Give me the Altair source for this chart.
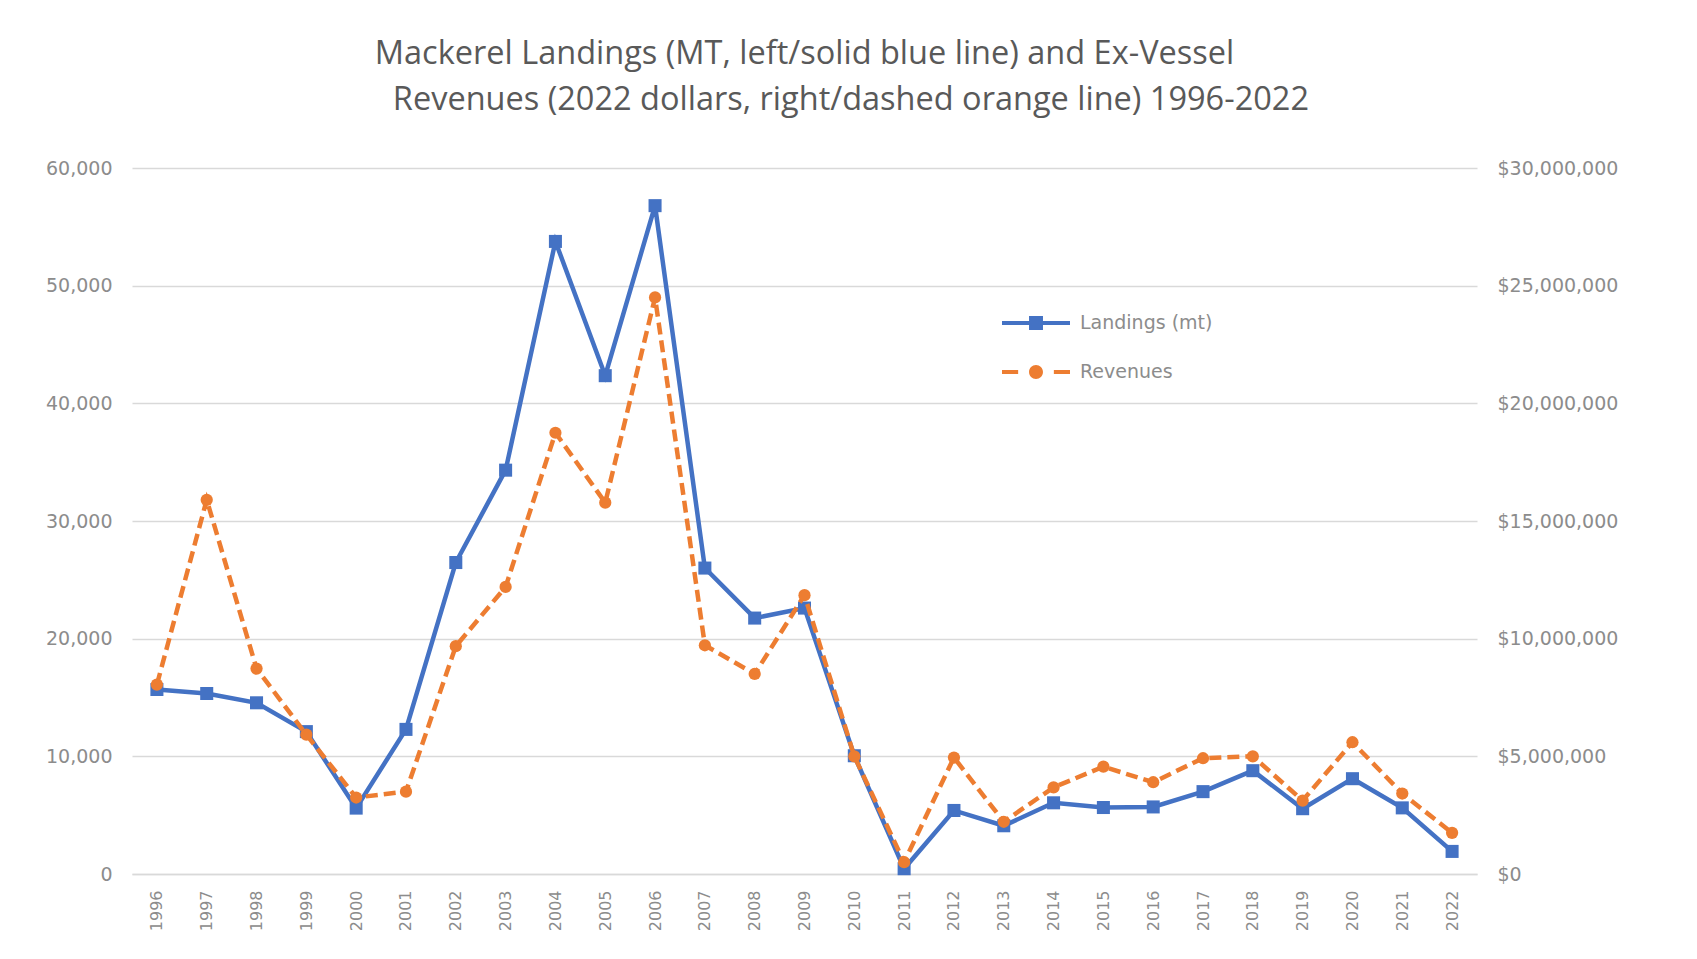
import altair as alt
import pandas as pd

years = ["1996", "1997", "1998", "1999", "2000", "2001", "2002", "2003", "2004",
         "2005", "2006", "2007", "2008", "2009", "2010", "2011", "2012", "2013",
         "2014", "2015", "2016", "2017", "2018", "2019", "2020", "2021", "2022"]

landings_mt = [15680, 15340, 14550, 12100, 5600, 12290, 26470, 34320, 53760,
               42350, 56800, 26000, 21750, 22600, 10050, 450, 5400, 4100,
               6050, 5650, 5700, 7000, 8780, 5550, 8100, 5620, 1920]

revenues_usd = [8050000, 15900000, 8730000, 5920000, 3250000, 3500000, 9680000,
                12200000, 18750000, 15780000, 24500000, 9720000, 8500000,
                11850000, 5000000, 500000, 4950000, 2220000, 3680000, 4560000,
                3900000, 4920000, 5000000, 3120000, 5600000, 3420000, 1750000]

series_names = ["Landings (mt)", "Revenues"]
left_ticks = [0, 10000, 20000, 30000, 40000, 50000, 60000]
right_ticks = [0, 5000000, 10000000, 15000000, 20000000, 25000000, 30000000]

BLUE = "#4472C4"
ORANGE = "#ED7D31"
GRID = "#d9d9d9"
LABEL = "#8c8c8c"
FONT = "DejaVu Sans"

# legend symbols: line with marker (filled paths)
legend_paths = [
    "M-2,-0.12H2V0.12H-2Z M-0.41,-0.41H0.41V0.41H-0.41Z",
    "M-2,-0.12H-1.05V0.12H-2Z M1.05,-0.12H2V0.12H1.05Z "
    "M0.41,0A0.41,0.41 0 1,1 -0.41,0A0.41,0.41 0 1,1 0.41,0Z",
]

df = pd.DataFrame({"Year": years, "Landings": landings_mt, "Revenues": revenues_usd})

x_enc = alt.X(
    "Year:O",
    scale=alt.Scale(padding=0.5),
    axis=alt.Axis(title=None, labelAngle=270, labelPadding=16, ticks=False,
                  domainColor=GRID, domainWidth=1.5, grid=False,
                  labelFont=FONT, labelFontSize=16, labelColor=LABEL),
)

base = alt.Chart(df).encode(x=x_enc)

land = base.mark_line(
    color=BLUE, strokeWidth=4.5,
    point=alt.OverlayMarkDef(shape="square", size=170, filled=True, color=BLUE, opacity=1),
).encode(
    y=alt.Y("Landings:Q", scale=alt.Scale(domain=[0, 60000]),
            axis=alt.Axis(title=None, orient="left", format=",.0f", values=left_ticks,
                          grid=True, gridColor=GRID, gridWidth=1.5, domain=False,
                          ticks=False, labelPadding=20, labelFont=FONT,
                          labelFontSize=19, labelColor=LABEL))
)

rev = base.mark_line(
    color=ORANGE, strokeWidth=4.5, strokeDash=[12, 6],
    point=alt.OverlayMarkDef(shape="circle", size=150, filled=True, color=ORANGE, opacity=1),
).encode(
    y=alt.Y("Revenues:Q", scale=alt.Scale(domain=[0, 30000000]),
            axis=alt.Axis(title=None, orient="right", format="$,.0f", values=right_ticks,
                          grid=False, domain=False, ticks=False, labelPadding=20,
                          labelFont=FONT, labelFontSize=19, labelColor=LABEL))
)

leg_def = alt.Legend(title=None, orient="none", legendX=887, legendY=138,
                     symbolSize=1156, symbolStrokeWidth=0, labelOffset=27,
                     rowPadding=22, labelFont=FONT, labelFontSize=19,
                     labelColor=LABEL)

leg = alt.Chart(df).transform_calculate(series="'Landings (mt)'").transform_filter(
    "false"
).mark_point(filled=True, opacity=1).encode(
    fill=alt.Fill("series:N", scale=alt.Scale(domain=series_names, range=[BLUE, ORANGE]), legend=leg_def),
    stroke=alt.Stroke("series:N", scale=alt.Scale(domain=series_names, range=[BLUE, ORANGE]), legend=leg_def),
    shape=alt.Shape("series:N", scale=alt.Scale(domain=series_names, range=legend_paths), legend=leg_def),
)

chart = alt.layer(land, rev, leg).resolve_scale(y="independent").properties(
    width=1345,
    height=706,
    padding={"left": 124, "top": 160, "right": 200, "bottom": 70},
    autosize=alt.AutoSizeParams(type="none"),
    background="white",
    title=alt.TitleParams(
        text=["Mackerel Landings (MT, left/solid blue line) and Ex-Vessel",
              "\u200b" + "\u00a0" * 11 + "Revenues (2022 dollars, right/dashed orange line) 1996-2022"],
        font="Open Sans", fontSize=32.5, fontWeight="normal", color="#595959",
        lineHeight=46, offset=43, frame="group", anchor="middle",
    ),
).configure_view(stroke=None)

chart.save("out.html", embed_options={"renderer": "svg", "actions": False})
